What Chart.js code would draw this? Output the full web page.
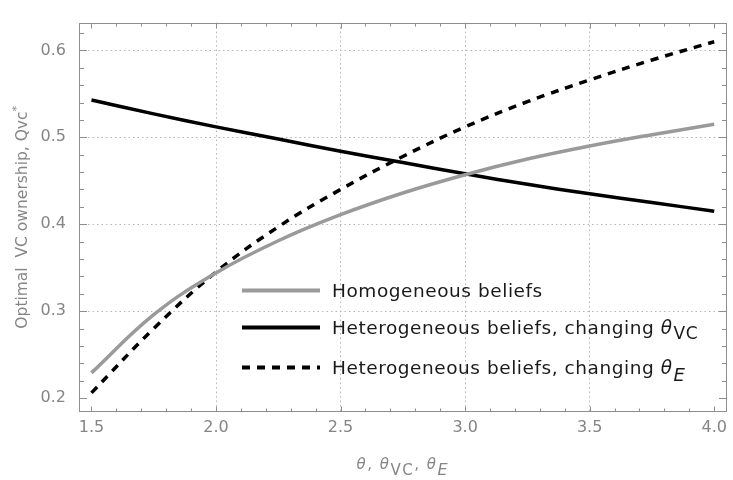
<!DOCTYPE html>
<html>
<head>
<meta charset="utf-8">
<style>
  html, body { margin: 0; padding: 0; background: #ffffff; }
  #wrap { width: 733px; height: 480px; }
</style>
<script src="https://cdn.jsdelivr.net/npm/chart.js@4.4.1/dist/chart.umd.min.js"></script>
</head>
<body>
<div id="wrap"><canvas id="c" width="733" height="480"></canvas></div>
<script>
// Belief parameter values (theta, theta_VC or theta_E) at which the curves are sampled
const thetaValues = [1.5, 1.75, 2.0, 2.25, 2.5, 2.75, 3.0, 3.25, 3.5, 3.75, 4.0];

// Optimal VC ownership Qvc* for each scenario
const homogeneous = [0.229, 0.296, 0.344, 0.381, 0.411, 0.436, 0.457, 0.475, 0.490, 0.503, 0.515];
const changingVC  = [0.543, 0.527, 0.512, 0.498, 0.484, 0.471, 0.458, 0.446, 0.435, 0.425, 0.415];
const changingE   = [0.206, 0.280, 0.345, 0.397, 0.440, 0.478, 0.512, 0.541, 0.566, 0.589, 0.610];

// Tick marks
const xTicks = [1.5, 2.0, 2.5, 3.0, 3.5, 4.0];
const yTicks = [0.2, 0.3, 0.4, 0.5, 0.6];
const xMinorStep = 0.1;
const yMinorStep = 0.02;

const FONT = '"DejaVu Sans", Verdana, sans-serif';
const TICK_COLOR = '#858585';
const FRAME_COLOR = '#8e8e8e';
const GRID_COLOR = '#b4b4b4';

const toPoints = ys => thetaValues.map((x, i) => ({ x: x, y: ys[i] }));

// Draw a run of text pieces (italic / shifted) starting at x on a baseline y
function drawRich(ctx, x, y, parts, measureOnly) {
  let cx = x;
  for (const p of parts) {
    ctx.font = (p.italic ? 'italic ' : '') + p.size + 'px ' + FONT;
    if (!measureOnly) ctx.fillText(p.t, cx, y + (p.dy || 0));
    cx += ctx.measureText(p.t).width + (p.gap || 0);
  }
  return cx - x;
}

const framePlugin = {
  id: 'frameDecor',
  afterDraw(chart) {
    const ctx = chart.ctx;
    const a = chart.chartArea;
    const xs = chart.scales.x, ys = chart.scales.y;
    const L = Math.round(a.left) + 0.5, R = Math.round(a.right) - 0.5;
    const T = Math.round(a.top) + 0.5, B = Math.round(a.bottom) - 0.5;

    ctx.save();
    // frame
    ctx.strokeStyle = FRAME_COLOR;
    ctx.lineWidth = 1;
    ctx.setLineDash([]);
    ctx.strokeRect(L, T, R - L, B - T);

    // inward ticks on all four sides
    ctx.beginPath();
    for (let k = -5; k <= 40; k++) {
      const v = Math.round((xTicks[0] + k * xMinorStep) * 1000) / 1000;
      if (v < xs.min || v > xs.max) continue;
      const major = xTicks.some(t => Math.abs(t - v) < 1e-6);
      const len = major ? 5 : 3;
      const px = Math.round(xs.getPixelForValue(v)) + 0.5;
      ctx.moveTo(px, B); ctx.lineTo(px, B - len);
      ctx.moveTo(px, T); ctx.lineTo(px, T + len);
    }
    for (let k = -5; k <= 40; k++) {
      const v = Math.round((yTicks[0] + k * yMinorStep) * 1000) / 1000;
      if (v < ys.min || v > ys.max) continue;
      const major = yTicks.some(t => Math.abs(t - v) < 1e-6);
      const len = major ? 7.5 : 4.5;
      const py = Math.round(ys.getPixelForValue(v)) + 0.5;
      ctx.moveTo(L, py); ctx.lineTo(L + len, py);
      ctx.moveTo(R, py); ctx.lineTo(R - len, py);
    }
    ctx.stroke();

    // axis titles
    ctx.fillStyle = '#858585';
    ctx.textBaseline = 'alphabetic';
    ctx.textAlign = 'left';
    ctx.letterSpacing = '1.5px';
    const xTitle = [
      { t: 'θ', italic: true, size: 15 },
      { t: ', ', size: 15 },
      { t: 'θ', italic: true, size: 15 },
      { t: 'VC', size: 15, dy: 6 },
      { t: ', ', size: 15 },
      { t: 'θ', italic: true, size: 15 },
      { t: 'E', italic: true, size: 16, dy: 6 }
    ];
    const xw = drawRich(ctx, 0, 0, xTitle, true);
    const xc = (a.left + a.right) / 2;
    drawRich(ctx, xc - xw / 2, 469, xTitle);
    ctx.letterSpacing = '0px';

    const yTitle = [
      { t: 'Optimal  VC ownership, Qvc', size: 15.5 },
      { t: '*', size: 11, dy: -7 }
    ];
    ctx.save();
    ctx.translate(27, (a.top + a.bottom) / 2);
    ctx.rotate(-Math.PI / 2);
    const yw = drawRich(ctx, 0, 0, yTitle, true);
    drawRich(ctx, -yw / 2, 0, yTitle);
    ctx.restore();

    // legend, using each dataset's own stroke style
    const rows = [
      [{ t: 'Homogeneous beliefs', size: 18.5 }],
      [{ t: 'Heterogeneous beliefs, changing ', size: 18.5 },
       { t: 'θ', italic: true, size: 18.5, gap: 1 },
       { t: 'VC', size: 17, dy: 5 }],
      [{ t: 'Heterogeneous beliefs, changing ', size: 18.5 },
       { t: 'θ', italic: true, size: 18.5, gap: 1 },
       { t: 'E', italic: true, size: 18, dy: 7 }]
    ];
    const rowY = [290.5, 327.5, 367.5];
    ctx.letterSpacing = '0.55px';
    chart.data.datasets.forEach((ds, i) => {
      const y = rowY[i];
      ctx.beginPath();
      ctx.strokeStyle = ds.borderColor;
      ctx.lineWidth = 4;
      ctx.setLineDash(ds.borderDash || []);
      ctx.moveTo(242, y);
      ctx.lineTo(320, y);
      ctx.stroke();
      ctx.setLineDash([]);
      ctx.fillStyle = '#1a1a1a';
      drawRich(ctx, 332, y + 6, rows[i]);
    });
    ctx.letterSpacing = '0px';
    ctx.restore();
  }
};

const gridColor = (edges) => (c) => {
  const v = c.tick ? c.tick.value : null;
  if (v === null) return GRID_COLOR;
  return edges.some(e => Math.abs(e - v) < 1e-6) ? 'rgba(0,0,0,0)' : GRID_COLOR;
};

const lineStyle = { borderWidth: 3.5, pointRadius: 0, tension: 0.4, fill: false };

new Chart(document.getElementById('c'), {
  type: 'line',
  data: {
    datasets: [
      Object.assign({
        label: 'Homogeneous beliefs',
        data: toPoints(homogeneous),
        borderColor: '#9a9a9a'
      }, lineStyle),
      Object.assign({
        label: 'Heterogeneous beliefs, changing θVC',
        data: toPoints(changingVC),
        borderColor: '#000000'
      }, lineStyle),
      Object.assign({
        label: 'Heterogeneous beliefs, changing θE',
        data: toPoints(changingE),
        borderColor: '#000000',
        borderDash: [8, 7]
      }, lineStyle)
    ]
  },
  options: {
    responsive: false,
    animation: false,
    devicePixelRatio: 1,
    layout: { padding: { left: 0, top: 11, right: 3, bottom: 0 } },
    plugins: {
      legend: { display: false },
      tooltip: { enabled: false },
      title: { display: false }
    },
    scales: {
      x: {
        type: 'linear',
        min: 1.45,
        max: 4.05,
        afterBuildTicks: s => { s.ticks = xTicks.map(v => ({ value: v })); },
        afterFit: s => { s.height = 68; },
        grid: { color: gridColor([1.5, 4.0]), lineWidth: 1, drawTicks: false },
        border: { display: false, dash: [1.5, 3] },
        ticks: {
          color: TICK_COLOR,
          font: { family: FONT, size: 16 },
          padding: 6,
          maxRotation: 0,
          autoSkip: false,
          callback: v => Number(v).toFixed(1)
        }
      },
      y: {
        type: 'linear',
        min: 0.184,
        max: 0.632,
        afterBuildTicks: s => { s.ticks = yTicks.map(v => ({ value: v })); },
        afterFit: s => { s.width = 79; },
        grid: { color: gridColor([0.2]), lineWidth: 1, drawTicks: false },
        border: { display: false, dash: [1.5, 3] },
        ticks: {
          color: TICK_COLOR,
          font: { family: FONT, size: 16 },
          padding: 13,
          autoSkip: false,
          callback: v => Number(v).toFixed(1)
        }
      }
    }
  },
  plugins: [framePlugin]
});
</script>
</body>
</html>
